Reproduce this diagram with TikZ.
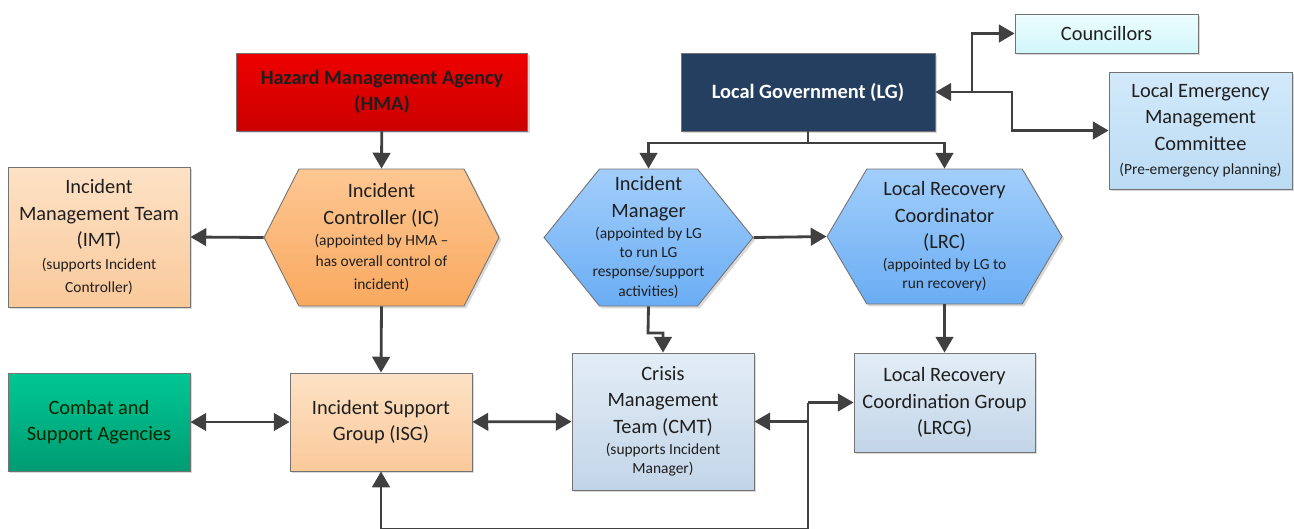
\documentclass[tikz,border=0pt]{standalone}
\usepackage{fontspec}
\setmainfont{Carlito}
\usetikzlibrary{arrows.meta,shapes.symbols,shadows,positioning}

\definecolor{hmaTop}{HTML}{EE0000}
\definecolor{hmaBot}{HTML}{CC0000}
\definecolor{orgTop}{HTML}{FDC793}
\definecolor{orgBot}{HTML}{F9A95F}
\definecolor{peaTop}{HTML}{FDE2C6}
\definecolor{peaBot}{HTML}{FAC99A}
\definecolor{grnTop}{HTML}{00C794}
\definecolor{grnBot}{HTML}{009C72}
\definecolor{navy}{HTML}{243F60}
\definecolor{cyaTop}{HTML}{ECFDFE}
\definecolor{cyaBot}{HTML}{D2F6F9}
\definecolor{sky}{HTML}{D2E9FA}
\definecolor{skyBot}{HTML}{BBDBF4}
\definecolor{bluTop}{HTML}{A2CEFB}
\definecolor{bluBot}{HTML}{6AADF4}
\definecolor{slaTop}{HTML}{E3EDF6}
\definecolor{slaBot}{HTML}{C2D5E8}
\definecolor{wire}{HTML}{404040}

\newcommand{\sm}[1]{{\fontsize{8.8}{11}\selectfont #1}}

\begin{document}
\begin{tikzpicture}[x=0.02cm,y=-0.02cm,
	box/.style={draw=black!55,line width=0.5pt,align=center,text=black!88,
		font=\fontsize{11.6}{15}\selectfont,inner sep=2pt,
		drop shadow={shadow xshift=1.3pt,shadow yshift=-1.3pt,opacity=0.3}},
	hexa/.style={box,shape=signal,signal to=west and east},
	conn/.style={draw=wire,line width=1.6pt},
	arr/.style={conn,-{Triangle[length=9pt,width=10pt]}},
	darr/.style={conn,{Triangle[length=9pt,width=10pt]}-{Triangle[length=9pt,width=10pt]}}]

	\useasboundingbox (0,0) rectangle (1294,528);

	% top row
	\node[box,top color=hmaTop,bottom color=hmaBot,font=\fontsize{11.6}{15}\selectfont\bfseries,
		minimum width=5.82cm,minimum height=1.56cm] (hma) at (382,92)
		{Hazard Management Agency\\(HMA)};
	\node[box,fill=navy,text=white,font=\fontsize{11.6}{15}\selectfont\bfseries,
		minimum width=5.08cm,minimum height=1.56cm] (lg) at (808,92)
		{Local Government (LG)};
	\node[box,top color=cyaTop,bottom color=cyaBot,
		minimum width=3.66cm,minimum height=0.78cm] (coun) at (1106.5,33.5)
		{Councillors};
	\node[box,top color=sky,bottom color=skyBot,
		minimum width=3.66cm,minimum height=2.34cm] (lemc) at (1200.5,130.5)
		{Local Emergency\\Management\\Committee\\[-1pt]\sm{(Pre-emergency planning)}};

	% middle row
	\node[box,top color=peaTop,bottom color=peaBot,
		minimum width=3.64cm,minimum height=2.8cm] (imt) at (99,237)
		{Incident\\Management Team\\(IMT)\\[-2pt]\sm{(supports Incident}\\[-2pt]\sm{Controller)}};
	\node[hexa,top color=orgTop,bottom color=orgBot,signal pointer angle=126,
		minimum width=4.7cm,minimum height=2.74cm] (ic) at (381.5,237.5)
		{Incident\\Controller (IC)\\[-3pt]\sm{(appointed by HMA --}\\[-3pt]\sm{has overall control of}\\[-2pt]\sm{incident)}};
	\node[hexa,top color=bluTop,bottom color=bluBot,signal pointer angle=102,inner xsep=-5pt,
		minimum width=4.18cm,minimum height=2.74cm] (im) at (648.5,237.5)
		{Incident\\Manager\\[-3pt]\sm{(appointed by LG}\\[-4pt]\sm{to run LG}\\[-4pt]\sm{response/support}\\[-4pt]\sm{activities)}};
	\node[hexa,top color=bluTop,bottom color=bluBot,signal pointer angle=119,
		minimum width=4.7cm,minimum height=2.7cm] (lrc) at (944.5,236.5)
		{Local Recovery\\Coordinator\\(LRC)\\[-3pt]\sm{(appointed by LG to}\\[-4pt]\sm{run recovery)}};

	% bottom row
	\node[box,top color=grnTop,bottom color=grnBot,text=black!85!green,
		minimum width=3.64cm,minimum height=1.96cm] (combat) at (99,422)
		{Combat and\\Support Agencies};
	\node[box,top color=peaTop,bottom color=peaBot,
		minimum width=3.64cm,minimum height=1.96cm] (isg) at (381,422)
		{Incident Support\\Group (ISG)};
	\node[box,top color=slaTop,bottom color=slaBot,
		minimum width=3.64cm,minimum height=2.74cm] (cmt) at (663,421.5)
		{Crisis\\Management\\Team (CMT)\\[-3pt]\sm{(supports Incident}\\[-4pt]\sm{Manager)}};
	\node[box,top color=slaTop,bottom color=slaBot,
		minimum width=3.62cm,minimum height=1.98cm] (lrcg) at (944.5,402.5)
		{Local Recovery\\Coordination Group\\(LRCG)};

	% junctions
	\coordinate (lgbus) at (808,143);
	\coordinate (lgj) at (972,92);
	\coordinate (lgk) at (1012,92);
	\coordinate (imbend) at (648,333);
	\coordinate (jct) at (808,402.5);
	\coordinate (jct2) at (808,421.5);
	\coordinate (busr) at (808,529);
	\coordinate (busl) at (381,529);

	\draw[arr] (hma) -- (ic.north);
	\draw[arr] (ic.west) -- (imt.east);
	\draw[arr] (ic.south) -- (isg.north);
	\draw[darr] (combat) -- (isg);
	\draw[darr] (isg) -- (cmt);

	\draw[conn] (lg.south) -- (lgbus);
	\draw[arr] (lgbus) -| (im.north);
	\draw[arr] (lgbus) -| (lrc.north);
	\draw[arr] (lgj) -- (lg.east);
	\draw[arr] (lgj) |- (coun.west);
	\draw[arr] (lgj) -- (lgk) |- (lemc.west);

	\draw[arr] (im.east) -- (lrc.west);
	\draw[arr] (im.south) -- (imbend) -| (cmt.north);
	\draw[arr] (lrc.south) -- (lrcg.north);

	\draw[arr] (jct) -- (busr) -- (busl) -- (isg.south);
	\draw[arr] (jct) -- (lrcg.west);
	\draw[arr] (jct2) -- (cmt.east);

\end{tikzpicture}
\end{document}
